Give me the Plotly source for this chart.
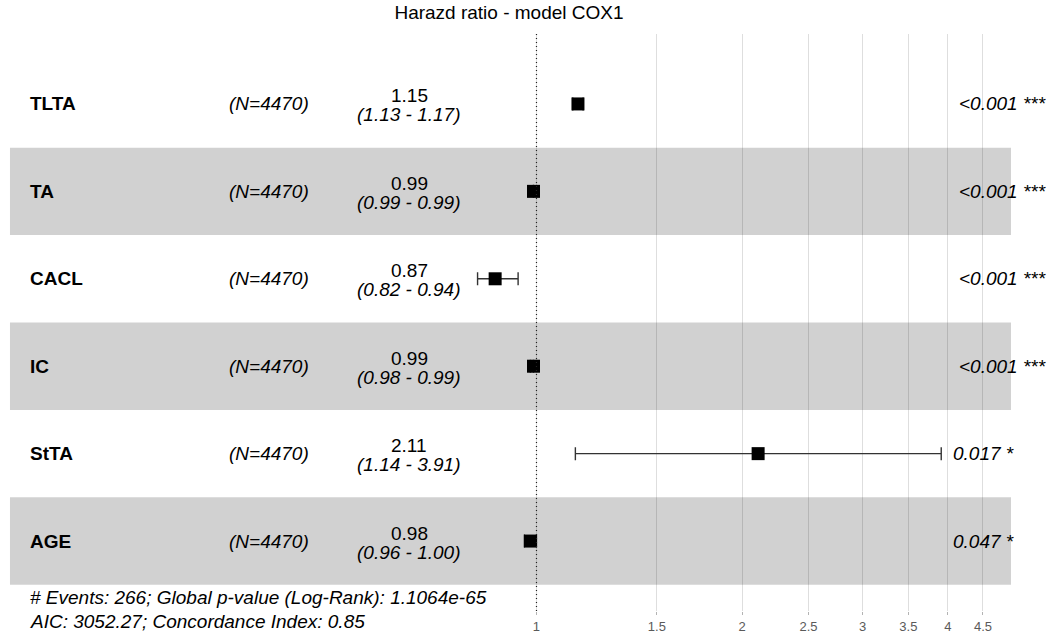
import plotly.graph_objects as go

# ---------------- data ----------------
variables = ["TLTA", "TA", "CACL", "IC", "StTA", "AGE"]
n_obs = [4470, 4470, 4470, 4470, 4470, 4470]
hr = [1.15, 0.99, 0.87, 0.99, 2.11, 0.98]
ci_low = [1.13, 0.99, 0.82, 0.98, 1.14, 0.96]
ci_high = [1.17, 0.99, 0.94, 0.99, 3.91, 1.00]
p_labels = ["<0.001", "<0.001", "<0.001", "<0.001", "0.017", "0.047"]
stars = ["***", "***", "***", "***", "*", "*"]
tick_vals = [1, 1.5, 2, 2.5, 3, 3.5, 4, 4.5]
tick_text = ["1", "1.5", "2", "2.5", "3", "3.5", "4", "4.5"]
n_events = 266
global_p = "1.1064e-65"
aic = 3052.27
concordance = 0.85
title = "Harazd ratio - model COX1"

# ---------------- layout helpers ----------------
W, H = 1056, 643
FONT = "Liberation Sans, Arial, Helvetica, sans-serif"
FS = 19
nrow = len(variables)
ypos = [nrow - i for i in range(nrow)]  # TLTA at top
band_lo, band_hi = 0.1697, 4.946      # extent of row bands (HR scale)


def px(x):
    return x / W


fig = go.Figure()

# row bands
shapes = []
for i, y in enumerate(ypos):
    if i % 2 == 1:
        shapes.append(dict(type="rect", xref="x", yref="y", layer="between",
                           x0=band_lo, x1=band_hi, y0=y - 0.5, y1=y + 0.5,
                           fillcolor="rgba(0,0,0,0.18)", line=dict(width=0)))
# reference line at HR = 1
shapes.append(dict(type="line", xref="x", yref="paper", x0=1, x1=1, y0=0, y1=1,
                   line=dict(color="#222222", width=1.2, dash="1px,3px"), layer="above"))

fig.add_trace(go.Scatter(
    x=hr, y=ypos, mode="markers",
    marker=dict(symbol="square", size=13, color="black"),
    error_x=dict(type="data", symmetric=False,
                 array=[h - e for h, e in zip(ci_high, hr)],
                 arrayminus=[e - l for e, l in zip(hr, ci_low)],
                 color="#333333", thickness=1.4, width=6.5),
    hoverinfo="skip", showlegend=False))

ann = []
for i, y in enumerate(ypos):
    ann.append(dict(xref="paper", yref="y", x=px(28), y=y, xanchor="left", yanchor="middle",
                    text="<b>%s</b>" % variables[i], showarrow=False,
                    font=dict(family=FONT, size=FS, color="black")))
    ann.append(dict(xref="paper", yref="y", x=px(227), y=y, xanchor="left", yanchor="middle",
                    text="<i>(N=%d)</i>" % n_obs[i], showarrow=False,
                    font=dict(family=FONT, size=FS, color="black")))
    ann.append(dict(xref="paper", yref="y", x=px(409), y=y, xanchor="center", yanchor="middle",
                    yshift=8, text="%.2f" % hr[i], showarrow=False,
                    font=dict(family=FONT, size=FS, color="black")))
    ann.append(dict(xref="paper", yref="y", x=px(409), y=y, xanchor="center", yanchor="middle",
                    yshift=-11, text="<i>(%.2f - %.2f)</i>" % (ci_low[i], ci_high[i]),
                    showarrow=False, font=dict(family=FONT, size=FS, color="black")))
    lab = "%s %s" % (p_labels[i], stars[i])
    ann.append(dict(xref="paper", yref="y", x=px(939), y=y, xanchor="left", yanchor="middle",
                    xshift=round(0.2 * 8.9 * len(lab)),
                    text="<i>%s</i>" % lab, showarrow=False,
                    font=dict(family=FONT, size=FS, color="black")))

# bottom annotation
ann.append(dict(xref="paper", yref="paper", x=px(28), y=(611 - 597) / 577, xanchor="left",
                yanchor="middle", showarrow=False,
                text="<i># Events: %d; Global p-value (Log-Rank): %s</i>" % (n_events, global_p),
                font=dict(family=FONT, size=FS, color="black")))
ann.append(dict(xref="paper", yref="paper", x=px(28), y=(611 - 621) / 577, xanchor="left",
                yanchor="middle", showarrow=False,
                text="<i>AIC: %.2f; Concordance Index: %.2f</i>" % (aic, concordance),
                font=dict(family=FONT, size=FS, color="black")))

fig.update_layout(
    width=W, height=H,
    margin=dict(l=0, r=0, t=34, b=32),
    paper_bgcolor="white", plot_bgcolor="white",
    showlegend=False,
    title=dict(text=title, x=509 / W, xanchor="center", y=1 - 12 / H, yanchor="middle",
               font=dict(family=FONT, size=FS, color="black")),
    shapes=shapes, annotations=ann,
    xaxis=dict(type="log", range=[-0.7849, 0.7601], tickvals=tick_vals, ticktext=tick_text,
               showgrid=True, gridcolor="#DEDEDE", gridwidth=1, showline=False,
               zeroline=False, ticks="outside", ticklen=3, tickcolor="#B3B3B3",
               tickfont=dict(family=FONT, size=13, color="#5A5A5A")),
    yaxis=dict(range=[0.2, 6.8], visible=False, showgrid=False, zeroline=False),
)

fig.write_html("out.html")
